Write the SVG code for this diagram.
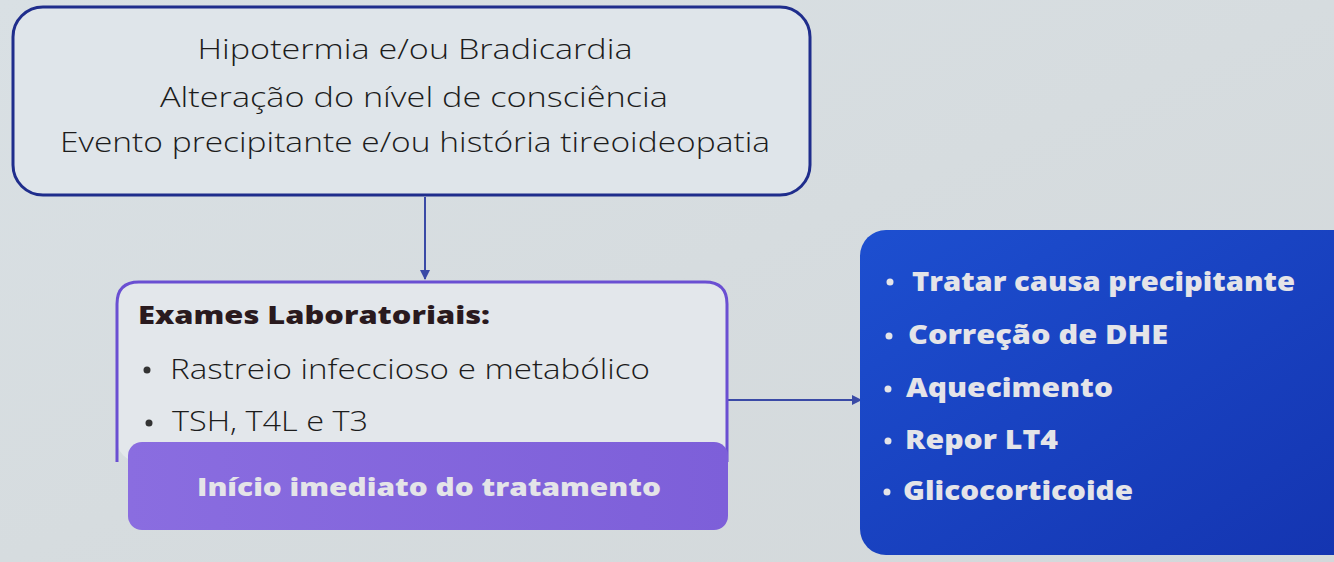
<svg xmlns="http://www.w3.org/2000/svg" width="1334" height="562" viewBox="0 0 1334 562">
<defs>
<linearGradient id="bg" x1="0" y1="0" x2="1" y2="1">
<stop offset="0" stop-color="#d9e0e4"/>
<stop offset="1" stop-color="#d3d8da"/>
</linearGradient>
<linearGradient id="blue" x1="0" y1="0" x2="1" y2="1">
<stop offset="0" stop-color="#1d4fd0"/>
<stop offset="1" stop-color="#1434b0"/>
</linearGradient>
<linearGradient id="purple" x1="0" y1="0" x2="1" y2="0">
<stop offset="0" stop-color="#8a6de0"/>
<stop offset="1" stop-color="#7d5fd9"/>
</linearGradient>
<marker id="arr" viewBox="0 0 10 10" refX="9" refY="5" markerWidth="5" markerHeight="5" orient="auto" markerUnits="strokeWidth">
<path d="M0,0 L10,5 L0,10 z" fill="#3a4aa6"/>
</marker>
<style>
.light{font-family:"Open Sans","Noto Sans",sans-serif;font-weight:300;fill:#1c1c1c}
.bold{font-family:"Open Sans","Noto Sans",sans-serif;font-weight:800}
.wt{fill:#e4e4e8}
.conn{stroke:#3a4aa6;stroke-width:2;fill:none}
</style>
</defs>
<rect width="1334" height="562" fill="url(#bg)"/>
<g id="connectors">
<line class="conn" x1="425" y1="197" x2="425" y2="279" marker-end="url(#arr)"/>
<line class="conn" x1="727" y1="400" x2="861" y2="400" marker-end="url(#arr)"/>
</g>
<g id="sintomas">
<rect x="13" y="7" width="797" height="188" rx="30" fill="#dfe5ea" stroke="#1f2d8c" stroke-width="3"/>
<text class="light" x="415" y="59" font-size="27" text-anchor="middle" textLength="435" lengthAdjust="spacingAndGlyphs">Hipotermia e/ou Bradicardia</text>
<text class="light" x="414" y="107" font-size="27" text-anchor="middle" textLength="508" lengthAdjust="spacingAndGlyphs">Alteração do nível de consciência</text>
<text class="light" x="415" y="152" font-size="27" text-anchor="middle" textLength="710" lengthAdjust="spacingAndGlyphs">Evento precipitante e/ou história tireoideopatia</text>
</g>
<g id="exames">
<rect x="117" y="282" width="610" height="180" rx="22" fill="#e3e7eb"/>
<path d="M117,462 V304 Q117,282 139,282 H705 Q727,282 727,304 V462" fill="none" stroke="#6a4fd2" stroke-width="3"/>
<text class="bold" x="138" y="324" font-size="24" fill="#2a1a1e" textLength="352" lengthAdjust="spacingAndGlyphs">Exames Laboratoriais:</text>
<circle cx="147" cy="370" r="3.5" fill="#333"/>
<text class="light" x="170" y="379" font-size="27" textLength="480" lengthAdjust="spacingAndGlyphs">Rastreio infeccioso e metabólico</text>
<circle cx="149" cy="423" r="3.5" fill="#333"/>
<text class="light" x="172" y="431" font-size="27" textLength="196" lengthAdjust="spacingAndGlyphs">TSH, T4L e T3</text>
</g>
<g id="inicio">
<rect x="128" y="442" width="600" height="88" rx="14" fill="url(#purple)"/>
<text class="bold wt" x="429" y="496" font-size="25" text-anchor="middle" textLength="464" lengthAdjust="spacingAndGlyphs">Início imediato do tratamento</text>
</g>
<g id="tratamento">
<rect x="860" y="230" width="500" height="325" rx="26" fill="url(#blue)"/>
<circle cx="890" cy="282" r="3.5" fill="#e4e4e8"/>
<text class="bold wt" x="912" y="291" font-size="26" textLength="383" lengthAdjust="spacingAndGlyphs">Tratar causa precipitante</text>
<circle cx="889" cy="336" r="3.5" fill="#e4e4e8"/>
<text class="bold wt" x="908" y="344" font-size="26" textLength="260" lengthAdjust="spacingAndGlyphs">Correção de DHE</text>
<circle cx="888" cy="389" r="3.5" fill="#e4e4e8"/>
<text class="bold wt" x="906" y="397" font-size="26" textLength="207" lengthAdjust="spacingAndGlyphs">Aquecimento</text>
<circle cx="888" cy="441" r="3.5" fill="#e4e4e8"/>
<text class="bold wt" x="905" y="449" font-size="26" textLength="153" lengthAdjust="spacingAndGlyphs">Repor LT4</text>
<circle cx="887" cy="492" r="3.5" fill="#e4e4e8"/>
<text class="bold wt" x="903" y="500" font-size="26" textLength="230" lengthAdjust="spacingAndGlyphs">Glicocorticoide</text>
</g>
</svg>
